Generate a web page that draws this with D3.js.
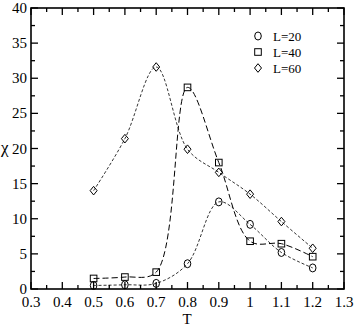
<!DOCTYPE html>
<html><head><meta charset="utf-8">
<script src="https://cdn.jsdelivr.net/npm/d3@7"></script>
<style>body{margin:0;background:#fff}</style>
</head><body><svg id="c" width="354" height="327" font-family="'Liberation Serif', 'Times New Roman', Times, serif"></svg>
<script>
const temps = [0.5, 0.6, 0.7, 0.8, 0.9, 1.0, 1.1, 1.2];
const chiL20 = [0.5, 0.6, 0.8, 3.6, 12.4, 9.2, 5.2, 3.0];
const chiL40 = [1.5, 1.7, 2.4, 28.7, 18.0, 6.8, 6.45, 4.6];
const chiL60 = [14.0, 21.4, 31.6, 19.9, 16.6, 13.5, 9.6, 5.8];
const seriesNames = ["L=20", "L=40", "L=60"];
const xTicks = [0.3,0.4,0.5,0.6,0.7,0.8,0.9,1,1.1,1.2,1.3];
const yTicks = [0,5,10,15,20,25,30,35,40];

const svg = d3.select("#c");
const m = {l:31, t:8, r:344, b:289};
const x = d3.scaleLinear().domain([0.3,1.3]).range([m.l,m.r]);
const y = d3.scaleLinear().domain([0,40]).range([m.b,m.t]);

const minorX = d3.range(0.35,1.3,0.1);
const minorY = d3.range(2.5,40,5);
const g = svg.append("g").attr("stroke","#000").attr("stroke-width",1.3);
xTicks.forEach(v=>{
  g.append("line").attr("x1",x(v)).attr("x2",x(v)).attr("y1",m.b).attr("y2",m.b-7);
  g.append("line").attr("x1",x(v)).attr("x2",x(v)).attr("y1",m.t).attr("y2",m.t+7);
});
minorX.forEach(v=>{
  g.append("line").attr("x1",x(v)).attr("x2",x(v)).attr("y1",m.b).attr("y2",m.b-4);
  g.append("line").attr("x1",x(v)).attr("x2",x(v)).attr("y1",m.t).attr("y2",m.t+4);
});
yTicks.forEach(v=>{
  g.append("line").attr("y1",y(v)).attr("y2",y(v)).attr("x1",m.l).attr("x2",m.l+7);
  g.append("line").attr("y1",y(v)).attr("y2",y(v)).attr("x1",m.r).attr("x2",m.r-7);
});
minorY.forEach(v=>{
  g.append("line").attr("y1",y(v)).attr("y2",y(v)).attr("x1",m.l).attr("x2",m.l+4);
  g.append("line").attr("y1",y(v)).attr("y2",y(v)).attr("x1",m.r).attr("x2",m.r-4);
});
svg.append("rect").attr("x",m.l).attr("y",m.t).attr("width",m.r-m.l).attr("height",m.b-m.t)
  .attr("fill","none").attr("stroke","#000").attr("stroke-width",1.6);

xTicks.forEach(v=>{
  svg.append("text").attr("x",x(v)).attr("y",307).attr("text-anchor","middle")
    .attr("font-size",15).text(d3.format("")(v));
});
yTicks.forEach(v=>{
  svg.append("text").attr("x",27).attr("y",y(v)+5).attr("text-anchor","end")
    .attr("font-size",15).text(v);
});
svg.append("text").attr("x",187).attr("y",324).attr("text-anchor","middle").attr("font-size",15).text("T");
svg.append("text").attr("x",1).attr("y",153).attr("font-size",17).text("χ");

const line = d3.line().x((d,i)=>x(temps[i])).y(d=>y(d)).curve(d3.curveCatmullRom.alpha(0.5));
const styles = [
  {data:chiL20, dash:"3,2", w:0.8},
  {data:chiL40, dash:"6,3", w:1.0},
  {data:chiL60, dash:"3,2", w:0.8}
];
styles.forEach(s=>{
  svg.append("path").attr("d",line(s.data)).attr("fill","none").attr("stroke","#000")
    .attr("stroke-width",s.w).attr("stroke-dasharray",s.dash);
});

function marker(sel, type, cx, cy){
  if(type===0) sel.append("ellipse").attr("cx",cx).attr("cy",cy).attr("rx",3.3).attr("ry",4)
    .attr("fill","none").attr("stroke","#000").attr("stroke-width",1);
  else if(type===1) sel.append("rect").attr("x",cx-3.3).attr("y",cy-3.3).attr("width",6.6).attr("height",6.6)
    .attr("fill","none").attr("stroke","#000").attr("stroke-width",1);
  else sel.append("path").attr("d",`M${cx},${cy-4.3}L${cx+3.5},${cy}L${cx},${cy+4.3}L${cx-3.5},${cy}Z`)
    .attr("fill","none").attr("stroke","#000").attr("stroke-width",1);
}
styles.forEach((s,k)=>{
  s.data.forEach((v,i)=>marker(svg,k,x(temps[i]),y(v)));
});

seriesNames.forEach((n,k)=>{
  const ly = 36 + k*16;
  marker(svg,k,258,ly);
  svg.append("text").attr("x",273).attr("y",ly+4.5).attr("font-size",13).text(n);
});
</script></body></html>
